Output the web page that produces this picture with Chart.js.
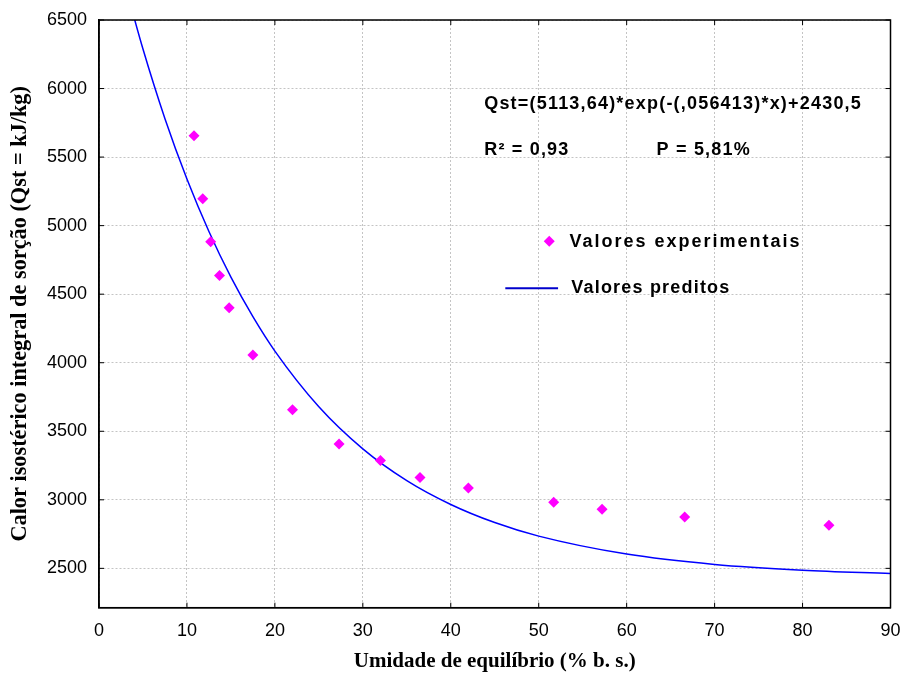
<!DOCTYPE html>
<html>
<head>
<meta charset="utf-8">
<script src="https://cdn.jsdelivr.net/npm/chart.js@4"></script>
<style>
  html, body { margin: 0; padding: 0; background: #fff; }
  #wrap { width: 904px; height: 675px; }
</style>
</head>
<body>
<div id="wrap"><canvas id="sorptionChart" width="904" height="675"></canvas></div>
<script>
const umidadeExp = [10.8, 11.8, 12.7, 13.7, 14.8, 17.5, 22.0, 27.3, 32.0, 36.5, 42.0, 51.7, 57.2, 66.6, 83.0];
const qstExp = [5655, 5197, 4882, 4636, 4401, 4057, 3657, 3408, 3287, 3163, 3086, 2983, 2932, 2874, 2814];

// Predicted curve, values
const umidadePred = [3, 5, 7.5, 10, 12.5, 15, 17.5, 20, 25, 30, 35, 40, 45, 50, 60, 70, 80, 90];
const qstPred = [6748, 6288, 5780, 5340, 4957, 4624, 4336, 4085, 3679, 3372, 3140, 2966, 2834, 2735, 2604, 2529, 2487, 2462];

const yTicks = [2500, 3000, 3500, 4000, 4500, 5000, 5500, 6000, 6500];
const xTicks = [0, 10, 20, 30, 40, 50, 60, 70, 80, 90];

const equationText = "Qst=(5113,64)*exp(-(,056413)*x)+2430,5";
const r2Text = "R² = 0,93";
const pText = "P = 5,81%";
const legendExp = "Valores experimentais";
const legendPred = "Valores preditos";

const SANS = "'Liberation Sans', Arial, sans-serif";
const SERIF = "'Liberation Serif', 'Times New Roman', serif";

// frame around the plot + short inward tick marks like the original
const framePlugin = {
  id: "frame",
  afterDatasetsDraw(chart) {
    const { ctx, chartArea: a, scales } = chart;
    ctx.save();
    ctx.strokeStyle = "#000";
    ctx.lineWidth = 1.5;
    ctx.strokeRect(a.left, a.top, a.right - a.left, a.bottom - a.top);
    ctx.lineWidth = 1;
    const len = 5;
    ctx.beginPath();
    xTicks.forEach((v) => {
      const px = scales.x.getPixelForValue(v);
      ctx.moveTo(px, a.top);
      ctx.lineTo(px, a.top + len);
      ctx.moveTo(px, a.bottom);
      ctx.lineTo(px, a.bottom - len);
    });
    yTicks.forEach((v) => {
      const py = scales.y.getPixelForValue(v);
      ctx.moveTo(a.left, py);
      ctx.lineTo(a.left + len, py);
      ctx.moveTo(a.right, py);
      ctx.lineTo(a.right - len, py);
    });
    ctx.stroke();
    ctx.restore();
  },
};

// text annotations and the in-plot legend, placed in data coordinates
const notesPlugin = {
  id: "notes",
  afterDatasetsDraw(chart) {
    const { ctx, scales } = chart;
    const X = (v) => scales.x.getPixelForValue(v);
    const Y = (v) => scales.y.getPixelForValue(v);
    ctx.save();
    ctx.fillStyle = "#000";
    ctx.textBaseline = "middle";
    ctx.textAlign = "left";
    ctx.font = "bold 18px " + SANS;
    ctx.letterSpacing = "1.2px";
    ctx.fillText(equationText, X(43.8), Y(5889));
    ctx.fillText(r2Text, X(43.8), Y(5551));
    ctx.fillText(pText, X(63.4), Y(5551));
    ctx.fillText(legendPred, X(53.7), Y(4544));
    ctx.letterSpacing = "2px";
    ctx.fillText(legendExp, X(53.5), Y(4879));
    ctx.letterSpacing = "0px";

    // legend symbols
    const dx = X(51.2), dy = Y(4886);
    ctx.fillStyle = "#FF00FF";
    ctx.beginPath();
    ctx.moveTo(dx, dy - 5.5);
    ctx.lineTo(dx + 5.5, dy);
    ctx.lineTo(dx, dy + 5.5);
    ctx.lineTo(dx - 5.5, dy);
    ctx.closePath();
    ctx.fill();

    ctx.strokeStyle = "#0000CC";
    ctx.lineWidth = 2;
    ctx.beginPath();
    ctx.moveTo(X(46.2), Y(4544));
    ctx.lineTo(X(52.2), Y(4544));
    ctx.stroke();
    ctx.restore();
  },
};

const ctx = document.getElementById("sorptionChart").getContext("2d");

const sorptionChart = new Chart(ctx, {
  type: "scatter",
  data: {
    datasets: [
      {
        label: legendExp,
        data: umidadeExp.map((x, i) => ({ x: x, y: qstExp[i] })),
        pointStyle: "rectRot",
        pointRadius: 5.5,
        pointBackgroundColor: "#FF00FF",
        pointBorderColor: "#FF00FF",
        pointBorderWidth: 0,
        showLine: false,
        order: 1,
      },
      {
        label: legendPred,
        data: umidadePred.map((x, i) => ({ x: x, y: qstPred[i] })),
        showLine: true,
        borderColor: "#0000FF",
        borderWidth: 1.5,
        pointRadius: 0,
        cubicInterpolationMode: "monotone",
        fill: false,
        order: 2,
      },
    ],
  },
  options: {
    responsive: false,
    animation: false,
    events: [],
    layout: { padding: { top: 20, right: 13.5, left: 0, bottom: 0 } },
    plugins: {
      legend: { display: false },
      tooltip: { enabled: false },
    },
    scales: {
      x: {
        type: "linear",
        min: 0,
        max: 90,
        afterBuildTicks: (scale) => {
          scale.ticks = xTicks.map((v) => ({ value: v }));
        },
        afterFit: (scale) => {
          scale.height = 67.3;
          scale.paddingLeft = 0;
          scale.paddingRight = 0;
        },
        grid: {
          color: "#c4c4c4",
          lineWidth: 1,
          drawTicks: false,
        },
        border: { display: true, color: "#000", width: 1.5, dash: [2, 2] },
        ticks: {
          color: "#000",
          padding: 13,
          font: { family: SANS, size: 18 },
          maxRotation: 0,
          callback: (v) => String(v),
        },
        title: {
          display: true,
          text: "Umidade de equilíbrio (% b. s.)",
          color: "#000",
          font: { family: SERIF, size: 21, weight: "bold" },
          padding: { top: 0, bottom: 1 },
        },
      },
      y: {
        type: "linear",
        min: 2213,
        max: 6500,
        afterBuildTicks: (scale) => {
          scale.ticks = yTicks.map((v) => ({ value: v }));
        },
        afterFit: (scale) => {
          scale.width = 99;
          scale.paddingTop = 0;
          scale.paddingBottom = 0;
        },
        grid: {
          color: "#c4c4c4",
          lineWidth: 1,
          drawTicks: false,
        },
        border: { display: true, color: "#000", width: 1.5, dash: [2, 2] },
        ticks: {
          color: "#000",
          padding: 12,
          font: { family: SANS, size: 18 },
          callback: (v) => String(v),
        },
        title: {
          display: true,
          text: "Calor isostérico integral de sorção (Qst = kJ/kg)",
          color: "#000",
          font: { family: SERIF, size: 22.3, weight: "bold" },
          padding: { top: 6.5, bottom: 0 },
        },
      },
    },
  },
  plugins: [framePlugin, notesPlugin],
});
</script>
</body>
</html>
